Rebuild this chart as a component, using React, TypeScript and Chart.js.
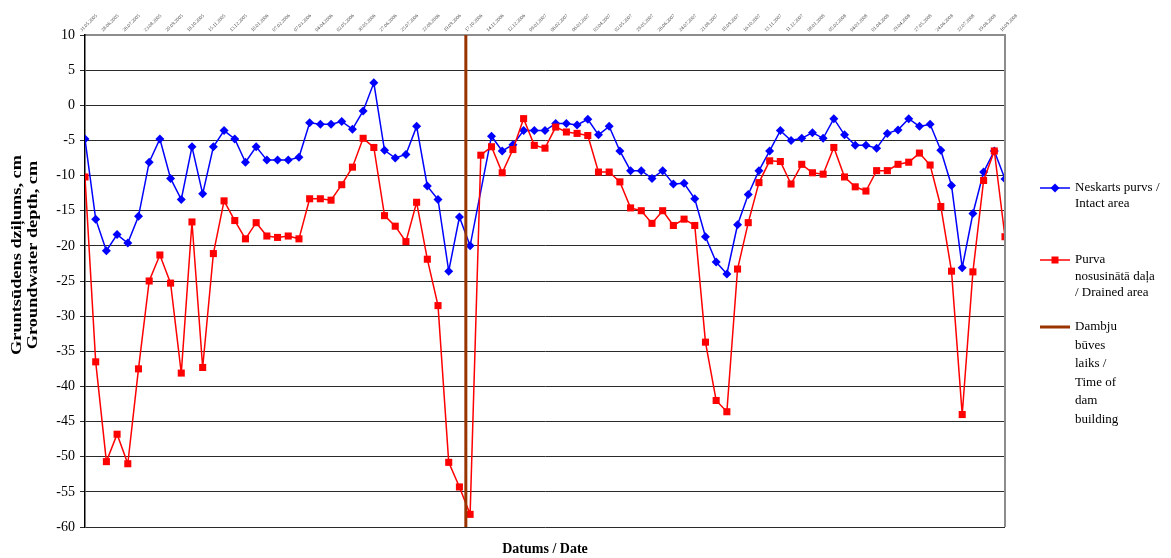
import { useEffect, useRef } from 'react';
import { Chart, registerables } from 'chart.js';

Chart.register(...registerables);

const dates = [
  '31.05.2005', '14.06.2005', '28.06.2005', '12.07.2005', '26.07.2005', '09.08.2005', '23.08.2005', '06.09.2005',
  '20.09.2005', '04.10.2005', '18.10.2005', '01.11.2005', '15.11.2005', '29.11.2005', '13.12.2005', '27.12.2005',
  '10.01.2006', '24.01.2006', '07.02.2006', '21.02.2006', '07.03.2006', '21.03.2006', '04.04.2006', '18.04.2006',
  '02.05.2006', '16.05.2006', '30.05.2006', '13.06.2006', '27.06.2006', '11.07.2006', '25.07.2006', '08.08.2006',
  '22.08.2006', '05.09.2006', '19.09.2006', '03.10.2006', '17.10.2006', '31.10.2006', '14.11.2006', '28.11.2006',
  '12.12.2006', '27.12.2006', '09.01.2007', '23.01.2007', '06.02.2007', '20.02.2007', '06.03.2007', '20.03.2007',
  '03.04.2007', '17.04.2007', '02.05.2007', '15.05.2007', '29.05.2007', '12.06.2007', '26.06.2007', '10.07.2007',
  '24.07.2007', '07.08.2007', '21.08.2007', '04.09.2007', '18.09.2007', '02.10.2007', '16.10.2007', '30.10.2007',
  '13.11.2007', '27.11.2007', '11.12.2007', '27.12.2007', '08.01.2008', '22.01.2008', '05.02.2008', '19.02.2008',
  '04.03.2008', '18.03.2008', '01.04.2008', '15.04.2008', '29.04.2008', '13.05.2008', '27.05.2008', '10.06.2008',
  '24.06.2008', '08.07.2008', '22.07.2008', '05.08.2008', '19.08.2008', '02.09.2008', '16.09.2008',
];

const intactArea: (number | null)[] = [
  -4.8, -16.2, -20.7, -18.4, -19.6, -15.8, -8.1, -4.8, -10.4, -13.4,
  -5.9, -12.6, -5.9, -3.6, -4.8, -8.1, -5.9, -7.8, -7.8, -7.8,
  -7.4, -2.5, -2.7, -2.7, -2.3, -3.4, -0.8, 3.2, -6.4, -7.5,
  -7.0, -3.0, -11.5, -13.4, -23.6, -15.9, -20.0, null, -4.4, -6.5,
  -5.6, -3.6, -3.6, -3.6, -2.6, -2.6, -2.8, -2.0, -4.2, -3.0,
  -6.5, -9.3, -9.3, -10.4, -9.3, -11.2, -11.1, -13.3, -18.7, -22.3,
  -24.0, -17.0, -12.7, -9.3, -6.5, -3.6, -5.0, -4.7, -3.9, -4.7,
  -1.9, -4.2, -5.7, -5.7, -6.1, -4.0, -3.5, -1.9, -3.0, -2.7,
  -6.4, -11.4, -23.1, -15.4, -9.5, -6.5, -10.5,
];

const drainedArea: number[] = [
  -10.2, -36.5, -50.7, -46.8, -51.0, -37.5, -25.0, -21.3, -25.3, -38.1,
  -16.6, -37.3, -21.1, -13.6, -16.4, -19.0, -16.7, -18.6, -18.8, -18.6,
  -19.0, -13.3, -13.3, -13.5, -11.3, -8.8, -4.7, -6.0, -15.7, -17.2,
  -19.4, -13.8, -21.9, -28.5, -50.8, -54.3, -58.2, -7.1, -5.9, -9.6,
  -6.3, -1.9, -5.7, -6.1, -3.1, -3.8, -4.0, -4.3, -9.5, -9.5,
  -10.9, -14.6, -15.0, -16.8, -15.0, -17.1, -16.2, -17.1, -33.7, -42.0,
  -43.6, -23.3, -16.7, -11.0, -7.9, -8.0, -11.2, -8.4, -9.6, -9.8,
  -6.0, -10.2, -11.6, -12.2, -9.3, -9.3, -8.4, -8.1, -6.8, -8.5,
  -14.4, -23.6, -44.0, -23.7, -10.7, -6.5, -18.7,
];

// position of the dam-building marker, in category index units
const damPosition = 35.6;
const damRange = [10, -60];

const yMin = -60;
const yMax = 10;
const yStep = 5;

const intactLabel = ['Neskarts purvs /', 'Intact area'];
const drainedLabel = ['Purva', 'nosusinātā daļa', '/ Drained area'];
const damLabel = ['Dambju', 'būves', 'laiks /', 'Time of', 'dam', 'building'];
const yTitle = ['Gruntsūdens dziļums, cm', 'Groundwater depth, cm'];
const xTitle = 'Datums / Date';

const SERIF = '"Liberation Serif", "Times New Roman", serif';

const decorPlugin = {
  id: 'decor',
  afterDraw(chart: any) {
    const ctx = chart.ctx as CanvasRenderingContext2D;
    const area = chart.chartArea;
    ctx.save();

    // right frame border
    ctx.strokeStyle = '#8c8c8c';
    ctx.lineWidth = 2;
    ctx.beginPath();
    ctx.moveTo(area.right, area.top);
    ctx.lineTo(area.right, area.bottom);
    ctx.stroke();

    // y title (stretched along its length like the reference)
    ctx.fillStyle = '#000';
    ctx.font = `bold 14px ${SERIF}`;
    ctx.textAlign = 'center';
    ctx.textBaseline = 'middle';
    const w0 = ctx.measureText(yTitle[0]).width || 1;
    const stretch = 200 / w0;
    yTitle.forEach((t, i) => {
      ctx.save();
      ctx.translate(17 + i * 16, 255);
      ctx.rotate(-Math.PI / 2);
      ctx.scale(stretch, 1);
      ctx.fillText(t, 0, 0);
      ctx.restore();
    });

    // x title
    ctx.fillText(xTitle, (area.left + area.right) / 2, 549);

    // legend
    const lx0 = 1040;
    const lx1 = 1070;
    const tx = 1075;
    ctx.font = `13px ${SERIF}`;
    ctx.textAlign = 'left';

    // intact
    let y = 188;
    ctx.strokeStyle = '#0000ff';
    ctx.fillStyle = '#0000ff';
    ctx.lineWidth = 1.5;
    ctx.beginPath();
    ctx.moveTo(lx0, y);
    ctx.lineTo(lx1, y);
    ctx.stroke();
    ctx.beginPath();
    ctx.moveTo(1055 - 4.5, y);
    ctx.lineTo(1055, y - 4.5);
    ctx.lineTo(1055 + 4.5, y);
    ctx.lineTo(1055, y + 4.5);
    ctx.closePath();
    ctx.fill();
    ctx.fillStyle = '#000';
    intactLabel.forEach((t, i) => ctx.fillText(t, tx, y + i * 16));

    // drained
    y = 260;
    ctx.strokeStyle = '#ff0000';
    ctx.fillStyle = '#ff0000';
    ctx.beginPath();
    ctx.moveTo(lx0, y);
    ctx.lineTo(lx1, y);
    ctx.stroke();
    ctx.fillRect(1055 - 3.5, y - 3.5, 7, 7);
    ctx.fillStyle = '#000';
    drainedLabel.forEach((t, i) => ctx.fillText(t, tx, y + i * 16.5));

    // dam
    y = 327;
    ctx.strokeStyle = '#993300';
    ctx.lineWidth = 3;
    ctx.beginPath();
    ctx.moveTo(lx0, y);
    ctx.lineTo(lx1, y);
    ctx.stroke();
    ctx.fillStyle = '#000';
    damLabel.forEach((t, i) => ctx.fillText(t, tx, y + i * 18.5));

    ctx.restore();
  },
};

export default function App() {
  const ref = useRef<HTMLCanvasElement | null>(null);

  useEffect(() => {
    if (!ref.current) return;
    const chart = new Chart(ref.current, {
      type: 'line',
      data: {
        datasets: [
          {
            label: 'Dambju būves laiks / Time of dam building',
            data: damRange.map((v) => ({ x: damPosition, y: v })),
            borderColor: '#993300',
            borderWidth: 3,
            pointRadius: 0,
            order: 0,
          },
          {
            label: 'Purva nosusinātā daļa / Drained area',
            data: drainedArea.map((v, i) => ({ x: i, y: v })),
            borderColor: '#ff0000',
            backgroundColor: '#ff0000',
            borderWidth: 1.5,
            pointStyle: 'rect',
            pointRadius: 5,
            pointBorderWidth: 0,
            order: 1,
          },
          {
            label: 'Neskarts purvs / Intact area',
            data: intactArea.map((v, i) => ({ x: i, y: v })),
            borderColor: '#0000ff',
            backgroundColor: '#0000ff',
            borderWidth: 1.5,
            pointStyle: 'rectRot',
            pointRadius: 4.5,
            pointBorderWidth: 0,
            spanGaps: true,
            order: 2,
          },
        ],
      },
      options: {
        responsive: false,
        animation: false,
        events: [],
        layout: { padding: { left: 0, top: 0, right: 166, bottom: 31 } },
        plugins: {
          legend: { display: false },
          tooltip: { enabled: false },
          title: { display: false },
        },
        scales: {
          x: {
            type: 'linear',
            position: 'top',
            min: 0,
            max: dates.length - 1,
            offset: false,
            grid: { display: false, drawTicks: false },
            border: { display: true, color: '#8c8c8c', width: 2 },
            ticks: {
              stepSize: 2,
              autoSkip: false,
              minRotation: 45,
              maxRotation: 45,
              padding: 2,
              color: '#444',
              font: { family: SERIF, size: 5 },
              callback: (v: any) => dates[Math.round(Number(v))] ?? '',
            },
            afterFit: (s: any) => {
              s.height = 35;
              s.paddingLeft = 0;
              s.paddingRight = 0;
            },
          },
          y: {
            type: 'linear',
            min: yMin,
            max: yMax,
            ticks: {
              stepSize: yStep,
              color: '#000',
              padding: 5,
              font: { family: SERIF, size: 14 },
            },
            grid: { color: '#2a2a2a', lineWidth: 1, tickLength: 5, drawTicks: true },
            border: { display: true, color: '#000', width: 1.5 },
            afterFit: (s: any) => {
              s.width = 85;
              s.paddingTop = 0;
              s.paddingBottom = 0;
            },
          },
        },
      },
      plugins: [decorPlugin],
    } as any);
    return () => chart.destroy();
  }, []);

  return (
    <div style={{ position: 'fixed', left: 0, top: 0, width: 1171, height: 558, background: '#fff' }}>
      <canvas ref={ref} width={1171} height={558} style={{ display: 'block' }} />
    </div>
  );
}
